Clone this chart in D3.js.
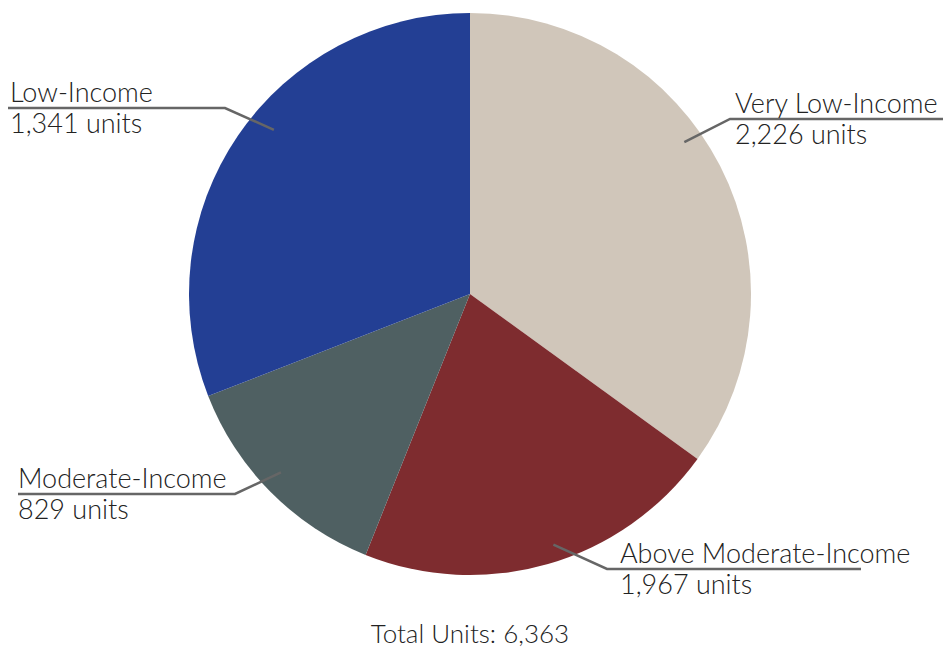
<!DOCTYPE html>
<html>
<head>
<meta charset="utf-8">
<title>Units by income level</title>
<style>
body { margin: 0; background: #fff; }
svg { display: block; }
.label { font-family: "Source Sans Pro", Lato, "Open Sans", sans-serif; font-weight: 300; fill: #222; }
.leader { fill: none; stroke: #666; stroke-width: 2.5; }
</style>
</head>
<body>
<div id="chart"></div>
<script src="https://d3js.org/d3.v7.min.js"></script>
<script>
// slices, clockwise from 12 o'clock
const categories = ["Very Low-Income", "Above Moderate-Income", "Moderate-Income", "Low-Income"];
const sliceValues = [2226, 1341, 829, 1967];   // slice sizes as drawn
const unitLabels = [2226, 1967, 829, 1341];    // counts as printed on the labels
const colors = ["#d0c6ba", "#7e2c2f", "#4f6062", "#233f94"];
const totalText = "Total Units: 6,363";

const width = 943, height = 650;
const cx = 470, cy = 294, radius = 281;

// label layout: where the leader enters the slice (fraction of slice angle),
// the elbow and the end of the horizontal rule, side of the text
const labelLayout = [
  { t: 0.434, r: 0.935, elbow: [730, 119], end: 943, tx: 735, side: "right" },
  { t: 0.47, r: 0.94, elbow: [607, 569], end: 861, tx: 620, side: "right" },
  { t: 0.53, r: 0.925, elbow: [235, 494], end: 18, tx: 18, side: "left" },
  { t: 0.55, r: 0.91, elbow: [225, 108], end: 8, tx: 10, side: "left" }
];

const svg = d3.select("#chart").append("svg")
  .attr("width", width)
  .attr("height", height);

const pie = d3.pie().sort(null).value(d => d);
const arcs = pie(sliceValues);
const arc = d3.arc().innerRadius(0).outerRadius(radius);

const g = svg.append("g").attr("transform", `translate(${cx},${cy})`);
g.selectAll("path")
  .data(arcs)
  .enter()
  .append("path")
  .attr("d", arc)
  .attr("fill", (d, i) => colors[i]);

// leader lines + labels
const fmt = d3.format(",");
arcs.forEach((a, i) => {
  const L = labelLayout[i];
  const ang = a.startAngle + (a.endAngle - a.startAngle) * L.t;
  const px = cx + Math.sin(ang) * radius * L.r;
  const py = cy - Math.cos(ang) * radius * L.r;
  svg.append("polyline")
    .attr("class", "leader")
    .attr("points", [[px, py], L.elbow, [L.end, L.elbow[1]]].map(p => p.join(",")).join(" "));

  svg.append("text")
    .attr("class", "label")
    .attr("x", L.tx)
    .attr("y", L.elbow[1] - 6)
    .attr("font-size", 27)
    .text(categories[i]);
  svg.append("text")
    .attr("class", "label")
    .attr("x", L.tx)
    .attr("y", L.elbow[1] + 25)
    .attr("font-size", 27)
    .text(fmt(unitLabels[i]) + " units");
});

svg.append("text")
  .attr("class", "label")
  .attr("x", cx)
  .attr("y", 643)
  .attr("text-anchor", "middle")
  .attr("font-size", 26)
  .text(totalText);
</script>
</body>
</html>
